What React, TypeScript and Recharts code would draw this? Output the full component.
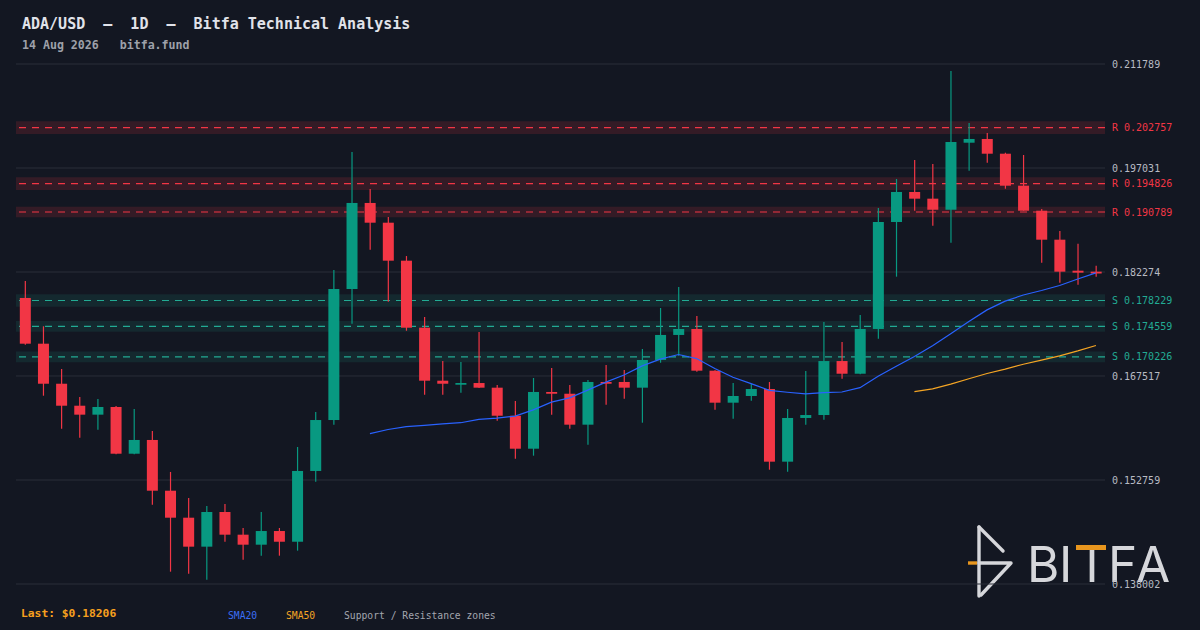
import { ComposedChart, Bar, Line, XAxis, YAxis, CartesianGrid, ReferenceLine, ReferenceArea } from 'recharts';

// daily OHLC
const opens = [
  0.17859, 0.17210, 0.16642, 0.16330, 0.16203, 0.16312, 0.15649, 0.15844, 0.15124, 0.14741,
  0.14330, 0.14822, 0.14500, 0.14358, 0.14552, 0.14400, 0.15404, 0.16127, 0.17986, 0.19207,
  0.18927, 0.18388, 0.17437, 0.16685, 0.16628, 0.16652, 0.16586, 0.16188, 0.15720, 0.16525,
  0.16500, 0.16061, 0.16667, 0.16667, 0.16586, 0.16979, 0.17334, 0.17419, 0.16827, 0.16373,
  0.16468, 0.16567, 0.15536, 0.16156, 0.16198, 0.16964, 0.16784, 0.17419, 0.18937, 0.19363,
  0.19268, 0.19111, 0.20062, 0.20115, 0.19906, 0.19452, 0.19097, 0.18686, 0.18246, 0.18232,
];
const highs = [
  0.18100, 0.17457, 0.16851, 0.16454, 0.16425, 0.16326, 0.16283, 0.15971, 0.15390, 0.15021,
  0.14907, 0.14935, 0.14595, 0.14822, 0.14595, 0.15744, 0.16241, 0.18256, 0.19930, 0.19405,
  0.19008, 0.18454, 0.17589, 0.16964, 0.16950, 0.17376, 0.16624, 0.16397, 0.16723, 0.16865,
  0.16624, 0.16695, 0.16908, 0.16837, 0.17135, 0.17717, 0.18015, 0.17603, 0.16835, 0.16652,
  0.16638, 0.16667, 0.16283, 0.16823, 0.17518, 0.17234, 0.17617, 0.19136, 0.19547, 0.19817,
  0.19760, 0.21080, 0.20342, 0.20200, 0.19920, 0.19888, 0.19121, 0.18809, 0.18629, 0.18317,
];
const lows = [
  0.17196, 0.16472, 0.16004, 0.15876, 0.15990, 0.15640, 0.15640, 0.14925, 0.13975, 0.13946,
  0.13861, 0.14400, 0.14145, 0.14202, 0.14202, 0.14273, 0.15252, 0.16061, 0.17494, 0.18544,
  0.17806, 0.17394, 0.16486, 0.16486, 0.16515, 0.16580, 0.16117, 0.15578, 0.15621, 0.16203,
  0.16004, 0.15777, 0.16344, 0.16430, 0.16089, 0.16940, 0.17040, 0.16813, 0.16274, 0.16146,
  0.16401, 0.15422, 0.15394, 0.16061, 0.16132, 0.16713, 0.16775, 0.17281, 0.18161, 0.19097,
  0.18884, 0.18643, 0.19665, 0.19778, 0.19409, 0.19097, 0.18359, 0.18076, 0.18047, 0.18161,
];
const closes = [
  0.17210, 0.16642, 0.16330, 0.16203, 0.16312, 0.15649, 0.15844, 0.15124, 0.14741, 0.14330,
  0.14822, 0.14500, 0.14358, 0.14552, 0.14400, 0.15404, 0.16127, 0.17986, 0.19207, 0.18927,
  0.18388, 0.17437, 0.16685, 0.16642, 0.16652, 0.16586, 0.16188, 0.15720, 0.16525, 0.16500,
  0.16061, 0.16667, 0.16642, 0.16586, 0.16979, 0.17334, 0.17419, 0.16827, 0.16373, 0.16468,
  0.16567, 0.15536, 0.16156, 0.16198, 0.16964, 0.16784, 0.17419, 0.18937, 0.19363, 0.19268,
  0.19111, 0.20072, 0.20115, 0.19906, 0.19452, 0.19097, 0.18686, 0.18232, 0.18218, 0.18206,
];

const priceTicks = [0.138002, 0.152759, 0.167517, 0.182274, 0.197031, 0.211789];

const resistanceLevels = [0.202757, 0.194826, 0.190789];
const resistanceHalf = [0.0009, 0.0009, 0.00076];
const supportLevels = [0.178229, 0.174559, 0.170226];
const supportHalf = [0.0009, 0.00076, 0.00076];

const UP = '#089981';
const DOWN = '#f23645';
const SUP = '#22ab94';
const BG = '#131722';
const MONO = '"DejaVu Sans Mono", monospace';
const W = 1200;
const H = 630;
const MARGIN = { top: 64, right: 5, bottom: 46, left: 16 };

// simple moving average of the closes
const sma = (n: number, i: number) => {
  if (i < n - 1) return null;
  let s = 0;
  for (let k = i - n + 1; k <= i; k++) s += closes[k];
  return s / n;
};

const data = opens.map((o, i) => ({
  i,
  o,
  h: highs[i],
  l: lows[i],
  c: closes[i],
  sma20: sma(20, i),
  sma50: sma(50, i),
}));

const Candle = (props: any) => {
  const { x, y, width, height, payload } = props;
  if (payload == null) return null;
  const top = Math.min(y, y + height);
  const bot = Math.max(y, y + height);
  const span = payload.h - payload.l || 1e-9;
  const py = (v: number) => top + ((payload.h - v) / span) * (bot - top);
  const up = payload.c >= payload.o;
  const color = up ? UP : DOWN;
  const cx = x + width / 2;
  const bw = 11;
  const y1 = py(Math.max(payload.o, payload.c));
  const y2 = py(Math.min(payload.o, payload.c));
  const bh = Math.max(y2 - y1, 1.6);
  return (
    <g>
      <line x1={cx} x2={cx} y1={top} y2={bot} stroke={color} strokeWidth={1.2} />
      <rect x={cx - bw / 2} y={y1} width={bw} height={bh} fill={color} />
    </g>
  );
};

const Logo = () => (
  <svg width={W} height={H} style={{ position: 'absolute', left: 0, top: 0 }}>
    <g stroke="#d6d7db" strokeWidth={3.4} strokeLinecap="round" strokeLinejoin="round" fill="none">
      <line x1={979} y1={527} x2={979} y2={596} />
      <line x1={979} y1={527} x2={1003} y2={551} />
      <polyline points="979,563 1011,563 981,595" />
    </g>
    <line x1={968} y1={563} x2={977} y2={563} stroke="#e8961e" strokeWidth={3.4} />
    <g fontFamily="Inter, 'Noto Sans', sans-serif" fontSize={49.5} fill="#d6d7db">
      <text x={1027} y={582}>B</text>
      <text x={1059} y={582}>I</text>
      <text x={1076} y={582}>T</text>
      <text x={1108} y={582}>F</text>
      <text x={1136} y={582}>A</text>
    </g>
    <rect x={1076} y={545} width={30} height={5} fill="#e8961e" />
  </svg>
);

const yAxisProps = {
  orientation: 'right' as const,
  width: 90,
  domain: [priceTicks[0], priceTicks[priceTicks.length - 1]],
  ticks: priceTicks,
  allowDataOverflow: true,
  axisLine: false,
  tickLine: false,
  tickSize: 0,
  tickMargin: 7,
};

export default function App() {
  return (
    <div style={{ position: 'fixed', left: 0, top: 0, width: W, height: H, background: BG, overflow: 'hidden' }}>
      <Logo />
      {/* back layer: grid, axis, zones */}
      <div style={{ position: 'absolute', left: 0, top: 0 }}>
        <ComposedChart width={W} height={H} data={data} margin={MARGIN}>
          <CartesianGrid vertical={false} stroke="#2a2e39" />
          <XAxis dataKey="i" hide />
          <YAxis
            {...yAxisProps}
            tick={{ fill: '#b8bbc3', fontSize: 10, fontFamily: MONO }}
            tickFormatter={(v: number) => v.toFixed(6)}
          />
          {resistanceLevels.map((v, k) => (
            <ReferenceArea key={'ra' + k} y1={v - resistanceHalf[k]} y2={v + resistanceHalf[k]} fill={DOWN} fillOpacity={0.15} stroke="none" />
          ))}
          {supportLevels.map((v, k) => (
            <ReferenceArea key={'sa' + k} y1={v - supportHalf[k]} y2={v + supportHalf[k]} fill={SUP} fillOpacity={0.12} stroke="none" />
          ))}
          {resistanceLevels.map((v) => (
            <ReferenceLine
              key={'rl' + v}
              y={v}
              stroke={DOWN}
              strokeWidth={1.2}
              strokeDasharray="7 6"
              label={{ value: `R ${v.toFixed(6)}`, position: 'right', offset: 7, fill: DOWN, fontSize: 10, fontFamily: MONO }}
            />
          ))}
          {supportLevels.map((v) => (
            <ReferenceLine
              key={'sl' + v}
              y={v}
              stroke={SUP}
              strokeWidth={1.2}
              strokeDasharray="7 6"
              label={{ value: `S ${v.toFixed(6)}`, position: 'right', offset: 7, fill: SUP, fontSize: 10, fontFamily: MONO }}
            />
          ))}
        </ComposedChart>
      </div>
      {/* front layer: candles and moving averages */}
      <div style={{ position: 'absolute', left: 0, top: 0 }}>
        <ComposedChart width={W} height={H} data={data} margin={MARGIN}>
          <XAxis dataKey="i" hide />
          <YAxis {...yAxisProps} tick={false} />
          <Line dataKey="sma20" stroke="#2962ff" strokeWidth={1.2} dot={false} type="linear" isAnimationActive={false} />
          <Line dataKey="sma50" stroke="#f5a524" strokeWidth={1.2} dot={false} type="linear" isAnimationActive={false} />
          <Bar dataKey={(d: any) => [d.l, d.h]} shape={<Candle />} isAnimationActive={false} />
        </ComposedChart>
      </div>
      <svg width={W} height={H} style={{ position: 'absolute', left: 0, top: 0, pointerEvents: 'none' }}>
        <text x={22} y={29} fontFamily={MONO} fontSize={15} fontWeight={700} fill="#e1e3ea" xmlSpace="preserve">
          ADA/USD  –  1D  –  Bitfa Technical Analysis
        </text>
        <text x={22} y={49} fontFamily={MONO} fontSize={11.6} fontWeight={700} fill="#9ea1aa" xmlSpace="preserve">
          14 Aug 2026   bitfa.fund
        </text>
        <text x={21} y={617} fontFamily={MONO} fontSize={11.3} fontWeight={700} fill="#f7a01e">
          Last: $0.18206
        </text>
        <text x={228} y={619} fontFamily={MONO} fontSize={9.7} fill="#3b6ef5">SMA20</text>
        <text x={286} y={619} fontFamily={MONO} fontSize={9.7} fill="#f5a524">SMA50</text>
        <text x={344} y={619} fontFamily={MONO} fontSize={9.7} fill="#a3a6af">Support / Resistance zones</text>
      </svg>
    </div>
  );
}
